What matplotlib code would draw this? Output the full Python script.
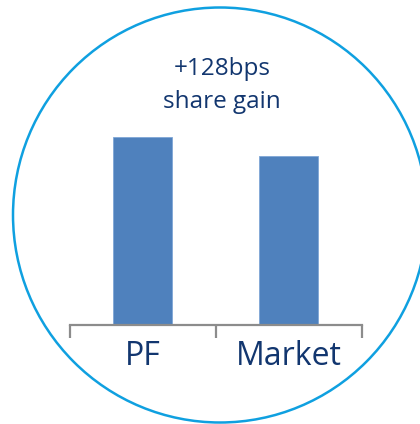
import matplotlib
matplotlib.use("Agg")
import matplotlib.pyplot as plt
from matplotlib.patches import Ellipse

# share of each group (%)
categories = ["PF", "Market"]
shares = [12.38, 11.10]
headline = "+128bps\nshare gain"

bar_color = "#4F81BD"
text_color = "#12366F"
ring_color = "#0FA0E0"
axis_color = "#8C8C8C"

plt.rcParams["font.family"] = ["Open Sans", "DejaVu Sans"]

fig = plt.figure(figsize=(4.2, 4.24), dpi=100)
fig.patch.set_facecolor("white")

# plot area in figure pixels (from top-left)
W, H = 420, 424
left, right, bottom, top = 69.5, 361.5, 324.5, 112.5
ax = fig.add_axes([left / W, 1 - bottom / H, (right - left) / W, (bottom - top) / H])

x = range(len(categories))
ax.bar(x, shares, width=0.4, color=bar_color, edgecolor="#7FA6D6", linewidth=0.6, zorder=2)
ax.set_xlim(-0.5, len(categories) - 0.5)
ax.set_ylim(0, 14)

for side in ("left", "right", "top"):
    ax.spines[side].set_visible(False)
ax.spines["bottom"].set_color(axis_color)
ax.spines["bottom"].set_linewidth(1.6)
ax.set_yticks([])

ax.set_xticks(list(x))
ax.set_xticklabels(categories, fontsize=23, color=text_color)
ax.tick_params(axis="x", which="major", length=0, pad=11)
ax.set_xticks([i - 0.5 for i in range(len(categories) + 1)], minor=True)
ax.tick_params(axis="x", which="minor", length=9, width=1.6, color=axis_color, direction="out")
ax.set_facecolor("none")

lines = headline.split("\n")
fig.text(222 / W, 1 - 75 / H, lines[0], ha="center", va="baseline", fontsize=17.5, color=text_color)
fig.text(222 / W, 1 - 108 / H, lines[1], ha="center", va="baseline", fontsize=17.5, color=text_color)

# outer ring
ring = Ellipse((220 / W, 1 - 215 / H), 414 / W, 415 / H, transform=fig.transFigure,
               fill=False, edgecolor=ring_color, linewidth=1.8)
fig.add_artist(ring)

fig.savefig("out.png", dpi=100)
